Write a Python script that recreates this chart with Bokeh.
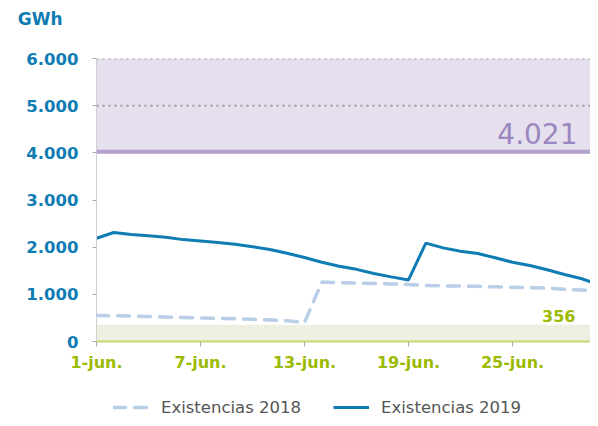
from bokeh.plotting import figure
from bokeh.models import (Range1d, FixedTicker, BoxAnnotation, Span, Label, Legend, LegendItem)
from bokeh.layouts import column
from bokeh.embed import file_html
from bokeh.resources import INLINE

days = list(range(1, 31))
stock_2018 = [550, 545, 540, 530, 520, 510, 500, 490, 480, 470, 455, 440, 400,
              1260, 1250, 1240, 1230, 1220, 1210, 1190, 1180, 1175, 1170, 1160,
              1150, 1140, 1130, 1110, 1090, 1070]
stock_2019 = [2190, 2310, 2270, 2240, 2210, 2160, 2130, 2100, 2060, 2010, 1950,
              1870, 1780, 1680, 1595, 1530, 1440, 1370, 1305, 2085, 1985, 1915,
              1865, 1775, 1680, 1610, 1520, 1420, 1330, 1200]
series_names = ["Existencias 2018", "Existencias 2019"]
unit_label = "GWh"
x_ticks = [1, 7, 13, 19, 25]
x_tick_labels = ["1-jun.", "7-jun.", "13-jun.", "19-jun.", "25-jun."]
y_ticks = [0, 1000, 2000, 3000, 4000, 5000, 6000]
y_tick_labels = ["0", "1.000", "2.000", "3.000", "4.000", "5.000", "6.000"]
max_level = 6000
ref_level = 4021
min_level = 356
dotted_levels = [5000, 6000]

FONT = "DejaVu Sans"
BLUE = "#0f7cb3"
LIGHT = "#b9cfe7"
GREEN = "#9cba00"
DASH = "12 9"

# top strip carrying the unit label as the text of its left axis
top = figure(width=590, height=30, output_backend="svg", toolbar_location=None,
             x_axis_type=None, x_range=Range1d(0, 1), y_range=Range1d(0, 30),
             min_border_left=96, min_border_right=0, min_border_top=0, min_border_bottom=0)
top.outline_line_color = None
top.xgrid.visible = False
top.ygrid.visible = False
top.yaxis.ticker = FixedTicker(ticks=[12])
top.yaxis.major_label_overrides = {12: unit_label}
top.yaxis.major_label_text_font = FONT
top.yaxis.major_label_text_font_size = "17px"
top.yaxis.major_label_text_font_style = "bold"
top.yaxis.major_label_text_color = BLUE
top.yaxis.axis_line_color = None
top.yaxis.major_tick_line_color = None
top.yaxis.minor_tick_line_color = None
top.yaxis.major_tick_out = 0
top.yaxis.major_tick_in = 0
top.yaxis.major_label_standoff = 34

p = figure(width=590, height=362, output_backend="svg", toolbar_location=None,
           x_range=Range1d(1, 29.5), y_range=Range1d(0, 6000),
           min_border_left=96, min_border_right=0, min_border_top=28, min_border_bottom=51)
p.outline_line_color = None
p.xgrid.visible = False
p.ygrid.visible = False
p.background_fill_color = "white"

# bands
p.add_layout(BoxAnnotation(bottom=ref_level, top=max_level, fill_color="#e6e0ee", fill_alpha=1, line_color=None, level="underlay"))
p.add_layout(BoxAnnotation(bottom=0, top=min_level, fill_color="#edf0e0", fill_alpha=1, line_color=None, level="underlay"))
for lv in dotted_levels:
    p.add_layout(Span(location=lv, dimension="width", line_color="#999999", line_width=2, line_dash="2 4", level="underlay"))
p.add_layout(Span(location=ref_level, dimension="width", line_color="#b3a1cc", line_width=4))

p.line(days, stock_2018, line_color=LIGHT, line_width=3.5, line_dash=DASH, line_cap="round")
p.line(days, stock_2019, line_color=BLUE, line_width=3)

p.add_layout(Label(x=29.5, y=ref_level, x_offset=-13, y_offset=8, text="4.021", text_align="right",
                   text_font=FONT, text_font_size="28px", text_color="#9c86c0"))
p.add_layout(Label(x=29.5, y=min_level, x_offset=-15, y_offset=3, text="356", text_align="right",
                   text_font=FONT, text_font_size="16px", text_font_style="bold", text_color=GREEN))

# axes
p.yaxis.ticker = FixedTicker(ticks=y_ticks)
p.yaxis.major_label_overrides = {t: l for t, l in zip(y_ticks, y_tick_labels)}
p.yaxis.major_label_text_font = FONT
p.yaxis.major_label_text_font_size = "16.5px"
p.yaxis.major_label_text_font_style = "bold"
p.yaxis.major_label_text_color = BLUE
p.yaxis.axis_line_color = "#d0d0d0"
p.yaxis.major_tick_line_color = "#aaaaaa"
p.yaxis.major_tick_in = 0
p.yaxis.major_tick_out = 4
p.yaxis.minor_tick_line_color = None
p.yaxis.major_label_standoff = 14

p.xaxis.ticker = FixedTicker(ticks=x_ticks)
p.xaxis.major_label_overrides = {t: l for t, l in zip(x_ticks, x_tick_labels)}
p.xaxis.major_label_text_font = FONT
p.xaxis.major_label_text_font_size = "16px"
p.xaxis.major_label_text_font_style = "bold"
p.xaxis.major_label_text_color = GREEN
p.xaxis.axis_line_color = "#c5d86a"
p.xaxis.axis_line_width = 2
p.xaxis.major_tick_line_color = "#aaaaaa"
p.xaxis.major_tick_in = 0
p.xaxis.major_tick_out = 5
p.xaxis.minor_tick_line_color = None
p.xaxis.major_label_standoff = 6

# legend strip (same series, drawn outside its visible range so only the legend keys show)
lg = figure(width=590, height=26, output_backend="svg", toolbar_location=None,
            x_axis_type=None, y_axis_type=None, x_range=Range1d(-2, -1), y_range=Range1d(-2, -1),
            min_border=0)
lg.outline_line_color = None
lg.xgrid.visible = False
lg.ygrid.visible = False
k18 = lg.line(days, stock_2018, line_color=LIGHT, line_width=3.5, line_dash=DASH, line_cap="round")
k19 = lg.line(days, stock_2019, line_color=BLUE, line_width=3)
legend = Legend(items=[LegendItem(label=series_names[0], renderers=[k18]),
                       LegendItem(label=series_names[1], renderers=[k19])],
                orientation="horizontal", location=(17, 1),
                label_text_font=FONT, label_text_font_size="16.5px", label_text_color="#555555",
                border_line_color=None, background_fill_alpha=0, glyph_width=36,
                label_standoff=12, spacing=32, padding=2, margin=0)
lg.add_layout(legend, "center")

layout = column(top, p, lg, spacing=0)
open("out.html", "w").write(file_html(layout, INLINE))
